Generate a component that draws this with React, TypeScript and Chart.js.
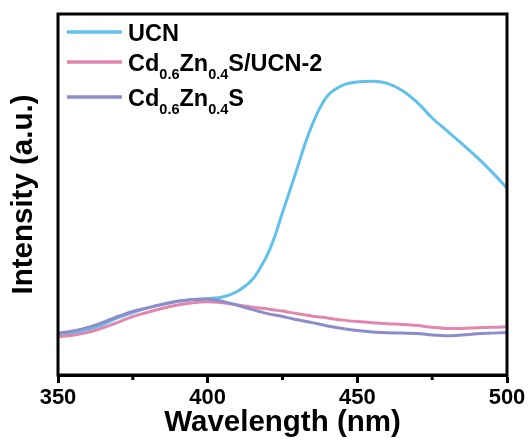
import React, { useEffect, useRef } from "react";
import { Chart, registerables } from "chart.js";

Chart.register(...registerables);

const wavelengths = [350, 355, 360, 365, 370, 375, 380, 385, 390, 395, 400, 405, 410, 415, 417.5, 420, 422.5, 425, 427.5, 430, 432.5, 435, 437.5, 440, 445, 450, 455, 460, 465, 470, 475, 480, 485, 490, 495, 500];

const ucn = [11.0, 11.5, 12.5, 14.0, 15.8, 17.3, 18.6, 19.6, 20.4, 20.9, 21.2, 21.6, 23.2, 26.5, 29.6, 33.4, 38.6, 45.0, 51.2, 57.5, 64.0, 69.5, 74.0, 77.3, 80.2, 81.2, 81.4, 80.8, 78.8, 75.5, 71.2, 67.6, 64.0, 60.3, 56.2, 51.8];

const cznUcn2 = [10.6, 11.0, 11.8, 13.1, 14.6, 16.2, 17.4, 18.5, 19.4, 20.0, 20.3, 20.0, 19.4, 18.8, 18.55, 18.3, 18.0, 17.7, 17.35, 17.0, 16.65, 16.3, 16.05, 15.8, 15.2, 14.8, 14.5, 14.2, 14.0, 13.7, 13.2, 12.9, 12.9, 13.1, 13.2, 13.4];

const czn = [11.6, 12.2, 13.2, 14.6, 16.2, 17.6, 18.6, 19.6, 20.4, 20.9, 21.0, 20.4, 19.3, 18.1, 17.55, 17.0, 16.6, 16.2, 15.75, 15.3, 14.9, 14.5, 14.05, 13.6, 12.9, 12.3, 11.9, 11.7, 11.6, 11.5, 11.1, 10.9, 11.1, 11.4, 11.6, 11.8];

const majorTicks = [350, 400, 450, 500];
const minorTicks = [375, 425, 475];

const COLORS = {
  ucn: "#62C1EC",
  cznUcn2: "#E386AD",
  czn: "#8D8DC9",
};

const FONT = '"Liberation Sans", Arial, sans-serif';

type LegendPart = { t: string; sub?: boolean };
const legendItems: { color: string; parts: LegendPart[] }[] = [
  { color: COLORS.ucn, parts: [{ t: "UCN" }] },
  {
    color: COLORS.cznUcn2,
    parts: [{ t: "Cd" }, { t: "0.6", sub: true }, { t: "Zn" }, { t: "0.4", sub: true }, { t: "S/UCN-2" }],
  },
  {
    color: COLORS.czn,
    parts: [{ t: "Cd" }, { t: "0.6", sub: true }, { t: "Zn" }, { t: "0.4", sub: true }, { t: "S" }],
  },
];

const legendRowsY = [32, 62, 97];

const framePlugin = {
  id: "framePlugin",
  afterDraw(chart: any) {
    const { ctx, chartArea } = chart;
    const xs = chart.scales.x;
    ctx.save();
    ctx.strokeStyle = "#000";
    ctx.lineWidth = 3;
    ctx.lineCap = "butt";
    minorTicks.forEach((v) => {
      const x = xs.getPixelForValue(v);
      ctx.beginPath();
      ctx.moveTo(x, chartArea.bottom);
      ctx.lineTo(x, chartArea.bottom + 5);
      ctx.stroke();
    });
    ctx.strokeRect(chartArea.left, chartArea.top, chartArea.right - chartArea.left, chartArea.bottom - chartArea.top);

    const lineX0 = chartArea.left + 9;
    const lineX1 = chartArea.left + 64;
    const textX = chartArea.left + 70;
    legendItems.forEach((item, i) => {
      const cy = legendRowsY[i];
      ctx.strokeStyle = item.color;
      ctx.lineWidth = 3.5;
      ctx.beginPath();
      ctx.moveTo(lineX0, cy);
      ctx.lineTo(lineX1, cy);
      ctx.stroke();
      let x = textX;
      const base = cy + 8.5;
      ctx.fillStyle = "#000";
      ctx.textBaseline = "alphabetic";
      ctx.textAlign = "left";
      item.parts.forEach((p) => {
        if (p.sub) {
          ctx.font = `bold 14.5px ${FONT}`;
          ctx.fillText(p.t, x, base + 8);
        } else {
          ctx.font = `bold 23.5px ${FONT}`;
          ctx.fillText(p.t, x, base);
        }
        x += ctx.measureText(p.t).width;
      });
    });
    ctx.restore();
  },
};

export default function App() {
  const ref = useRef<HTMLCanvasElement | null>(null);

  useEffect(() => {
    if (!ref.current) return;
    const mk = (arr: number[]) => wavelengths.map((x, i) => ({ x, y: arr[i] }));
    const chart = new Chart(ref.current, {
      type: "line",
      data: {
        datasets: [
          {
            label: "Cd0.6Zn0.4S",
            data: mk(czn),
            borderColor: COLORS.czn,
            borderWidth: 3,
            pointRadius: 0,
            cubicInterpolationMode: "monotone",
          },
          {
            label: "Cd0.6Zn0.4S/UCN-2",
            data: mk(cznUcn2),
            borderColor: COLORS.cznUcn2,
            borderWidth: 3,
            pointRadius: 0,
            cubicInterpolationMode: "monotone",
          },
          {
            label: "UCN",
            data: mk(ucn),
            borderColor: COLORS.ucn,
            borderWidth: 3,
            pointRadius: 0,
            cubicInterpolationMode: "monotone",
          },
        ],
      },
      options: {
        responsive: false,
        animation: false,
        layout: { padding: { top: 14, right: 23, left: 0, bottom: 0 } },
        plugins: {
          legend: { display: false },
          tooltip: { enabled: false },
        },
        scales: {
          x: {
            type: "linear",
            min: 350,
            max: 500,
            afterBuildTicks: (scale: any) => {
              scale.ticks = majorTicks.map((v) => ({ value: v }));
            },
            afterFit: (scale: any) => {
              scale.height = 68;
            },
            grid: {
              display: true,
              drawOnChartArea: false,
              drawTicks: true,
              tickLength: 8,
              tickWidth: 3,
              tickColor: "#000",
            },
            border: { display: true, color: "#000", width: 3 },
            ticks: {
              color: "#000",
              padding: 2,
              maxRotation: 0,
              font: { family: FONT, size: 22, weight: "bold" },
              callback: (v: any) => String(v),
            },
            title: {
              display: true,
              text: "Wavelength (nm)",
              color: "#000",
              font: { family: FONT, size: 29.5, weight: "bold", lineHeight: 1 },
              padding: { top: 0, bottom: 5 },
            },
          },
          y: {
            min: 0,
            max: 100,
            afterFit: (scale: any) => {
              scale.width = 58;
            },
            grid: { display: false },
            border: { display: false },
            ticks: { display: false },
            title: {
              display: true,
              text: "Intensity (a.u.)",
              color: "#000",
              font: { family: FONT, size: 29.5, weight: "bold", lineHeight: 1 },
              padding: { top: 9, bottom: 0 },
            },
          },
        },
      },
      plugins: [framePlugin],
    });
    return () => chart.destroy();
  }, []);

  return (
    <div style={{ position: "absolute", left: 0, top: 0, width: 530, height: 443, background: "#fff" }}>
      <canvas ref={ref} width={530} height={443} style={{ display: "block" }} />
    </div>
  );
}
